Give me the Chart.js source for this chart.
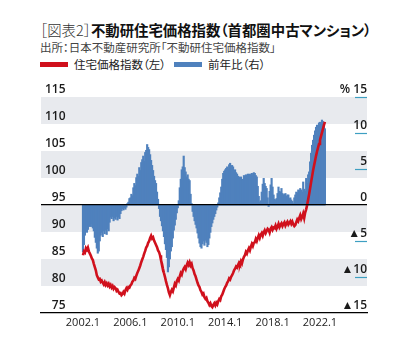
<!DOCTYPE html>
<html>
<head>
<meta charset="utf-8">
<script src="https://cdn.jsdelivr.net/npm/chart.js@4.4.1/dist/chart.umd.min.js"></script>
<style>
body { margin: 0; background: #fff; width: 407px; height: 354px; overflow: hidden; position: relative;
  font-family: "Noto Sans CJK JP", sans-serif; font-feature-settings: "palt"; }
canvas { position: absolute; left: 0; top: 0; }
.head { position: absolute; left: 40px; white-space: nowrap; }
#title { top: 20px; font-size: 14.4px; font-weight: 700; color: #111; line-height: 20px; }
#title span { font-weight: 300; color: #333; }
#src { top: 39px; font-size: 11.5px; color: #444; line-height: 16px; }
#legend { top: 56px; font-size: 11.5px; color: #222; line-height: 16px; display: flex; align-items: center; }
#legend .sw { display: inline-block; width: 28px; height: 5px; margin-right: 6px; }
#legend .item { display: flex; align-items: center; margin-right: 8px; }
</style>
</head>
<body>
<div class="head" id="title"><span>［図表2］</span>不動研住宅価格指数（首都圏中古マンション）</div>
<div class="head" id="src">出所：日本不動産研究所「不動研住宅価格指数」</div>
<div class="head" id="legend"></div>
<canvas id="chart" width="407" height="354"></canvas>
<script>
// 月次データ 2002.1 〜 2022.6
const startYear = 2002;
const seriesNames = ['住宅価格指数（左）', '前年比（右）'];

// 住宅価格指数（左軸）
const indexValues = [
  85.7, 86.4, 86.2, 87.0, 86.7, 87.1, 86.4, 86.0, 85.6, 85.1, 84.8, 84.1,
  83.5, 82.9, 82.0, 81.6, 81.2, 81.3, 80.8, 81.0, 80.6, 80.3, 80.7, 80.2,
  80.5, 80.1, 80.4, 79.9, 80.2, 79.7, 80.0, 79.5, 79.8, 79.6, 79.1, 79.3,
  78.9, 78.6, 78.7, 78.3, 78.5, 78.9, 78.6, 79.2, 79.6, 79.3, 79.8, 79.7,
  80.1, 80.3, 80.8, 81.0, 81.5, 81.3, 81.9, 82.4, 82.8, 83.3, 83.8, 84.4,
  84.9, 85.4, 86.0, 86.5, 87.1, 87.4, 88.0, 88.3, 88.9, 89.3, 88.8, 89.0,
  88.4, 88.0, 87.6, 87.2, 86.6, 86.3, 85.7, 84.8, 84.1, 83.2, 82.4, 81.7,
  80.9, 80.2, 79.6, 78.8, 78.3, 78.9, 79.3, 79.0, 79.7, 80.4, 80.1, 80.9,
  81.3, 81.0, 81.8, 82.4, 82.1, 82.8, 83.2, 83.5, 83.1, 83.8, 84.3, 83.9,
  84.4, 83.8, 84.1, 83.3, 82.9, 82.2, 81.8, 81.2, 80.6, 80.1, 79.8, 79.2,
  78.9, 78.4, 78.6, 77.9, 77.6, 77.8, 77.2, 76.9, 76.5, 76.8, 76.3, 76.1,
  76.5, 76.8, 76.4, 76.9, 76.6, 77.2, 77.6, 77.4, 78.1, 78.4, 78.9, 79.4,
  79.8, 80.1, 80.6, 80.9, 81.4, 81.2, 81.7, 82.0, 82.4, 82.9, 83.2, 83.6,
  83.4, 83.9, 84.3, 84.0, 84.6, 84.2, 84.9, 85.4, 85.7, 86.3, 86.0, 86.6,
  87.0, 86.6, 87.3, 87.8, 87.4, 88.0, 88.1, 88.7, 88.3, 88.9, 89.4, 88.9,
  89.5, 89.8, 89.3, 89.9, 90.3, 89.8, 90.2, 90.6, 90.4, 89.9, 90.6, 90.9,
  90.4, 90.8, 90.7, 91.2, 90.6, 91.0, 91.5, 90.9, 91.3, 91.6, 91.1, 91.5,
  91.8, 91.2, 91.6, 91.9, 91.4, 91.7, 92.0, 91.5, 91.9, 91.4, 91.1, 91.3,
  91.8, 92.3, 92.0, 92.6, 93.1, 92.4, 92.8, 93.4, 92.6, 93.6, 94.2, 95.0,
  96.0, 97.0, 98.1, 99.2, 100.3, 101.4, 102.3, 103.2, 104.1, 104.9, 105.6, 106.3,
  107.0, 107.7, 108.4, 109.1, 109.8, 110.4
];

// 前年比 %（右軸）
const yoyValues = [
  -6.5, -5.5, -4.2, -3.6, -3.8, -3.4, -3.0, -2.8, -3.0, -2.6, -3.2, -3.6,
  -4.5, -5.2, -6.0, -6.7, -6.4, -5.0, -4.2, -3.8, -4.4, -3.6, -4.0, -3.5,
  -4.1, -3.3, -3.6, -2.4, -1.7, -1.9, -1.6, -2.2, -1.8, -2.0, -1.6, -2.1,
  -1.7, -1.9, -1.2, -0.8, -0.5, -0.7, -0.4, -0.6, -0.3, 0.2, 0.4, 0.9,
  1.0, 1.5, 1.3, 2.4, 3.0, 2.7, 3.8, 4.3, 4.0, 5.2, 4.8, 5.9,
  6.3, 6.8, 6.1, 7.3, 7.6, 8.4, 8.0, 7.7, 7.0, 6.2, 5.5, 4.8,
  4.0, 3.4, 3.0, 1.8, 0.8, -0.5, -1.6, -2.2, -2.9, -3.6, -4.4, -5.4,
  -6.2, -7.3, -9.3, -8.6, -7.5, -6.4, -5.8, -4.6, -3.5, -2.8, -2.0, -1.1,
  -0.4, 0.6, 2.4, 3.6, 4.9, 5.3, 6.8, 5.2, 4.6, 3.9, 4.2, 3.6,
  3.4, 1.5, 0.2, -0.9, -1.6, -2.2, -2.7, -3.2, -3.9, -4.6, -5.3, -5.8,
  -6.0, -5.4, -5.0, -5.6, -4.9, -5.2, -5.8, -5.5, -4.6, -3.8, -3.0, -2.5,
  -2.0, -1.6, -1.2, -0.7, -0.3, 0.3, 1.0, 1.7, 2.5, 3.6, 4.4, 4.7,
  4.9, 5.1, 5.3, 5.0, 5.6, 5.8, 5.4, 5.5, 5.3, 4.8, 4.9, 4.5,
  4.3, 4.0, 3.9, 3.7, 3.9, 3.4, 3.6, 4.1, 3.8, 4.2, 3.9, 4.3,
  4.0, 4.3, 4.1, 4.4, 4.2, 4.5, 4.4, 4.1, 3.9, 2.6, 1.2, 0.4,
  0.6, 1.8, 2.9, 3.7, 3.0, 2.6, 2.3, 1.0, -0.2, 1.9, 2.8, 3.7,
  2.5, 1.4, 0.8, 0.7, 0.9, 1.6, 2.5, 1.9, 1.8, 2.3, 1.6, 1.4,
  1.5, 1.6, 1.2, 1.4, 1.4, 0.9, 1.0, 0.7, 0.5, 0.2, 1.0, 1.4,
  1.8, 1.7, 2.1, 2.0, 2.3, 2.1, 1.8, 3.2, 2.2, 1.9, 3.7, 3.0,
  4.2, 4.6, 6.0, 7.2, 8.3, 9.0, 9.7, 10.3, 10.8, 11.1, 11.0, 11.4,
  11.5, 11.2, 11.8, 11.6, 11.1, 10.6
];

const xTickLabels = ['2002.1', '2006.1', '2010.1', '2014.1', '2018.1', '2022.1'];
const leftTicks = [75, 80, 85, 90, 95, 100, 105, 110, 115];
const rightTicks = [-15, -10, -5, 0, 5, 10, 15];

const RED = '#d0101c';
const BLUE = '#4f81bd';
const BAND = '#e8eaee';
const TEAL = '#3e9fc2';

// ラベル "2006.1" → 2002.1 からの月数
function monthOf(label) {
  const [y, m] = label.split('.').map(Number);
  return (y - startYear) * 12 + (m - 1);
}

// 凡例（HTML）
const legendEl = document.getElementById('legend');
[[seriesNames[0], RED], [seriesNames[1], BLUE]].forEach(([name, col]) => {
  const item = document.createElement('span');
  item.className = 'item';
  item.innerHTML = '<span class="sw" style="background:' + col + '"></span>' + name;
  legendEl.appendChild(item);
});

// 背景の縞
const bandsPlugin = {
  id: 'bands',
  beforeDraw(chart) {
    const { ctx, chartArea: a, scales: { y } } = chart;
    ctx.save();
    ctx.fillStyle = BAND;
    for (let i = 0; i < leftTicks.length - 1; i++) {
      if (i % 2 === 1) {
        const top = y.getPixelForValue(leftTicks[i + 1]);
        const bot = y.getPixelForValue(leftTicks[i]);
        ctx.fillRect(a.left, top, a.right - a.left, bot - top);
      }
    }
    ctx.restore();
  }
};

// 右軸ラベルの下線
const underlinePlugin = {
  id: 'underline',
  afterDraw(chart) {
    const { ctx, chartArea: a, scales: { y1 } } = chart;
    ctx.save();
    ctx.strokeStyle = TEAL;
    ctx.lineWidth = 1.2;
    rightTicks.forEach(v => {
      if (v === 0 || v === -15) return;
      const py = Math.round(y1.getPixelForValue(v)) + 0.5;
      ctx.beginPath();
      ctx.moveTo(a.right - 12, py);
      ctx.lineTo(a.right, py);
      ctx.stroke();
    });
    ctx.restore();
  }
};

const tickFont = { family: "'Open Sans', sans-serif", size: 12, weight: '600' };

new Chart(document.getElementById('chart'), {
  type: 'bar',
  data: {
    datasets: [
      {
        type: 'line',
        label: seriesNames[0],
        data: indexValues.map((v, i) => ({ x: i, y: v })),
        yAxisID: 'y',
        borderColor: RED,
        borderWidth: 2.6,
        pointRadius: 0,
        tension: 0,
        order: 1
      },
      {
        label: seriesNames[1],
        data: yoyValues.map((v, i) => ({ x: i, y: v })),
        yAxisID: 'y1',
        backgroundColor: BLUE,
        borderWidth: 0,
        barThickness: 1.5,
        order: 2
      }
    ]
  },
  options: {
    responsive: false,
    animation: false,
    layout: { padding: { left: 41, right: 40, top: 97, bottom: 0 } },
    plugins: { legend: { display: false }, tooltip: { enabled: false } },
    scales: {
      x: {
        type: 'linear',
        offset: false,
        min: -42.5,
        max: 287.6,
        afterFit(s) { s.height = 41; },
        afterBuildTicks(s) { s.ticks = xTickLabels.map(l => ({ value: monthOf(l) })); },
        ticks: {
          autoSkip: false,
          maxRotation: 0,
          padding: 3,
          color: '#222',
          font: { family: "'Open Sans', sans-serif", size: 11 },
          callback: (v) => xTickLabels.find(l => monthOf(l) === v) || ''
        },
        grid: { display: false, drawTicks: false, offset: false },
        border: { display: true, color: '#000', width: 1.3 }
      },
      y: {
        position: 'left',
        min: 75,
        max: 115,
        afterFit(s) { s.width = 0; },
        afterBuildTicks(s) { s.ticks = leftTicks.map(v => ({ value: v })); },
        ticks: {
          mirror: true,
          crossAlign: 'far',
          padding: 4,
          labelOffset: -7,
          color: '#1a1a1a',
          font: tickFont
        },
        grid: {
          drawTicks: false,
          z: 1,
          lineWidth: 1.3,
          color: c => (c.tick && c.tick.value === 95 ? '#000' : 'rgba(0,0,0,0)')
        },
        border: { display: false }
      },
      y1: {
        position: 'right',
        min: -15,
        max: 15,
        afterFit(s) { s.width = 0; },
        afterBuildTicks(s) { s.ticks = rightTicks.map(v => ({ value: v })); },
        ticks: {
          mirror: true,
          padding: 0,
          labelOffset: -7,
          color: '#1a1a1a',
          font: tickFont,
          callback: v => (v < 0 ? '▲' + (-v) : v === 15 ? '% 15' : String(v))
        },
        grid: { display: false, drawTicks: false },
        border: { display: false }
      }
    }
  },
  plugins: [bandsPlugin, underlinePlugin]
});
</script>
</body>
</html>
